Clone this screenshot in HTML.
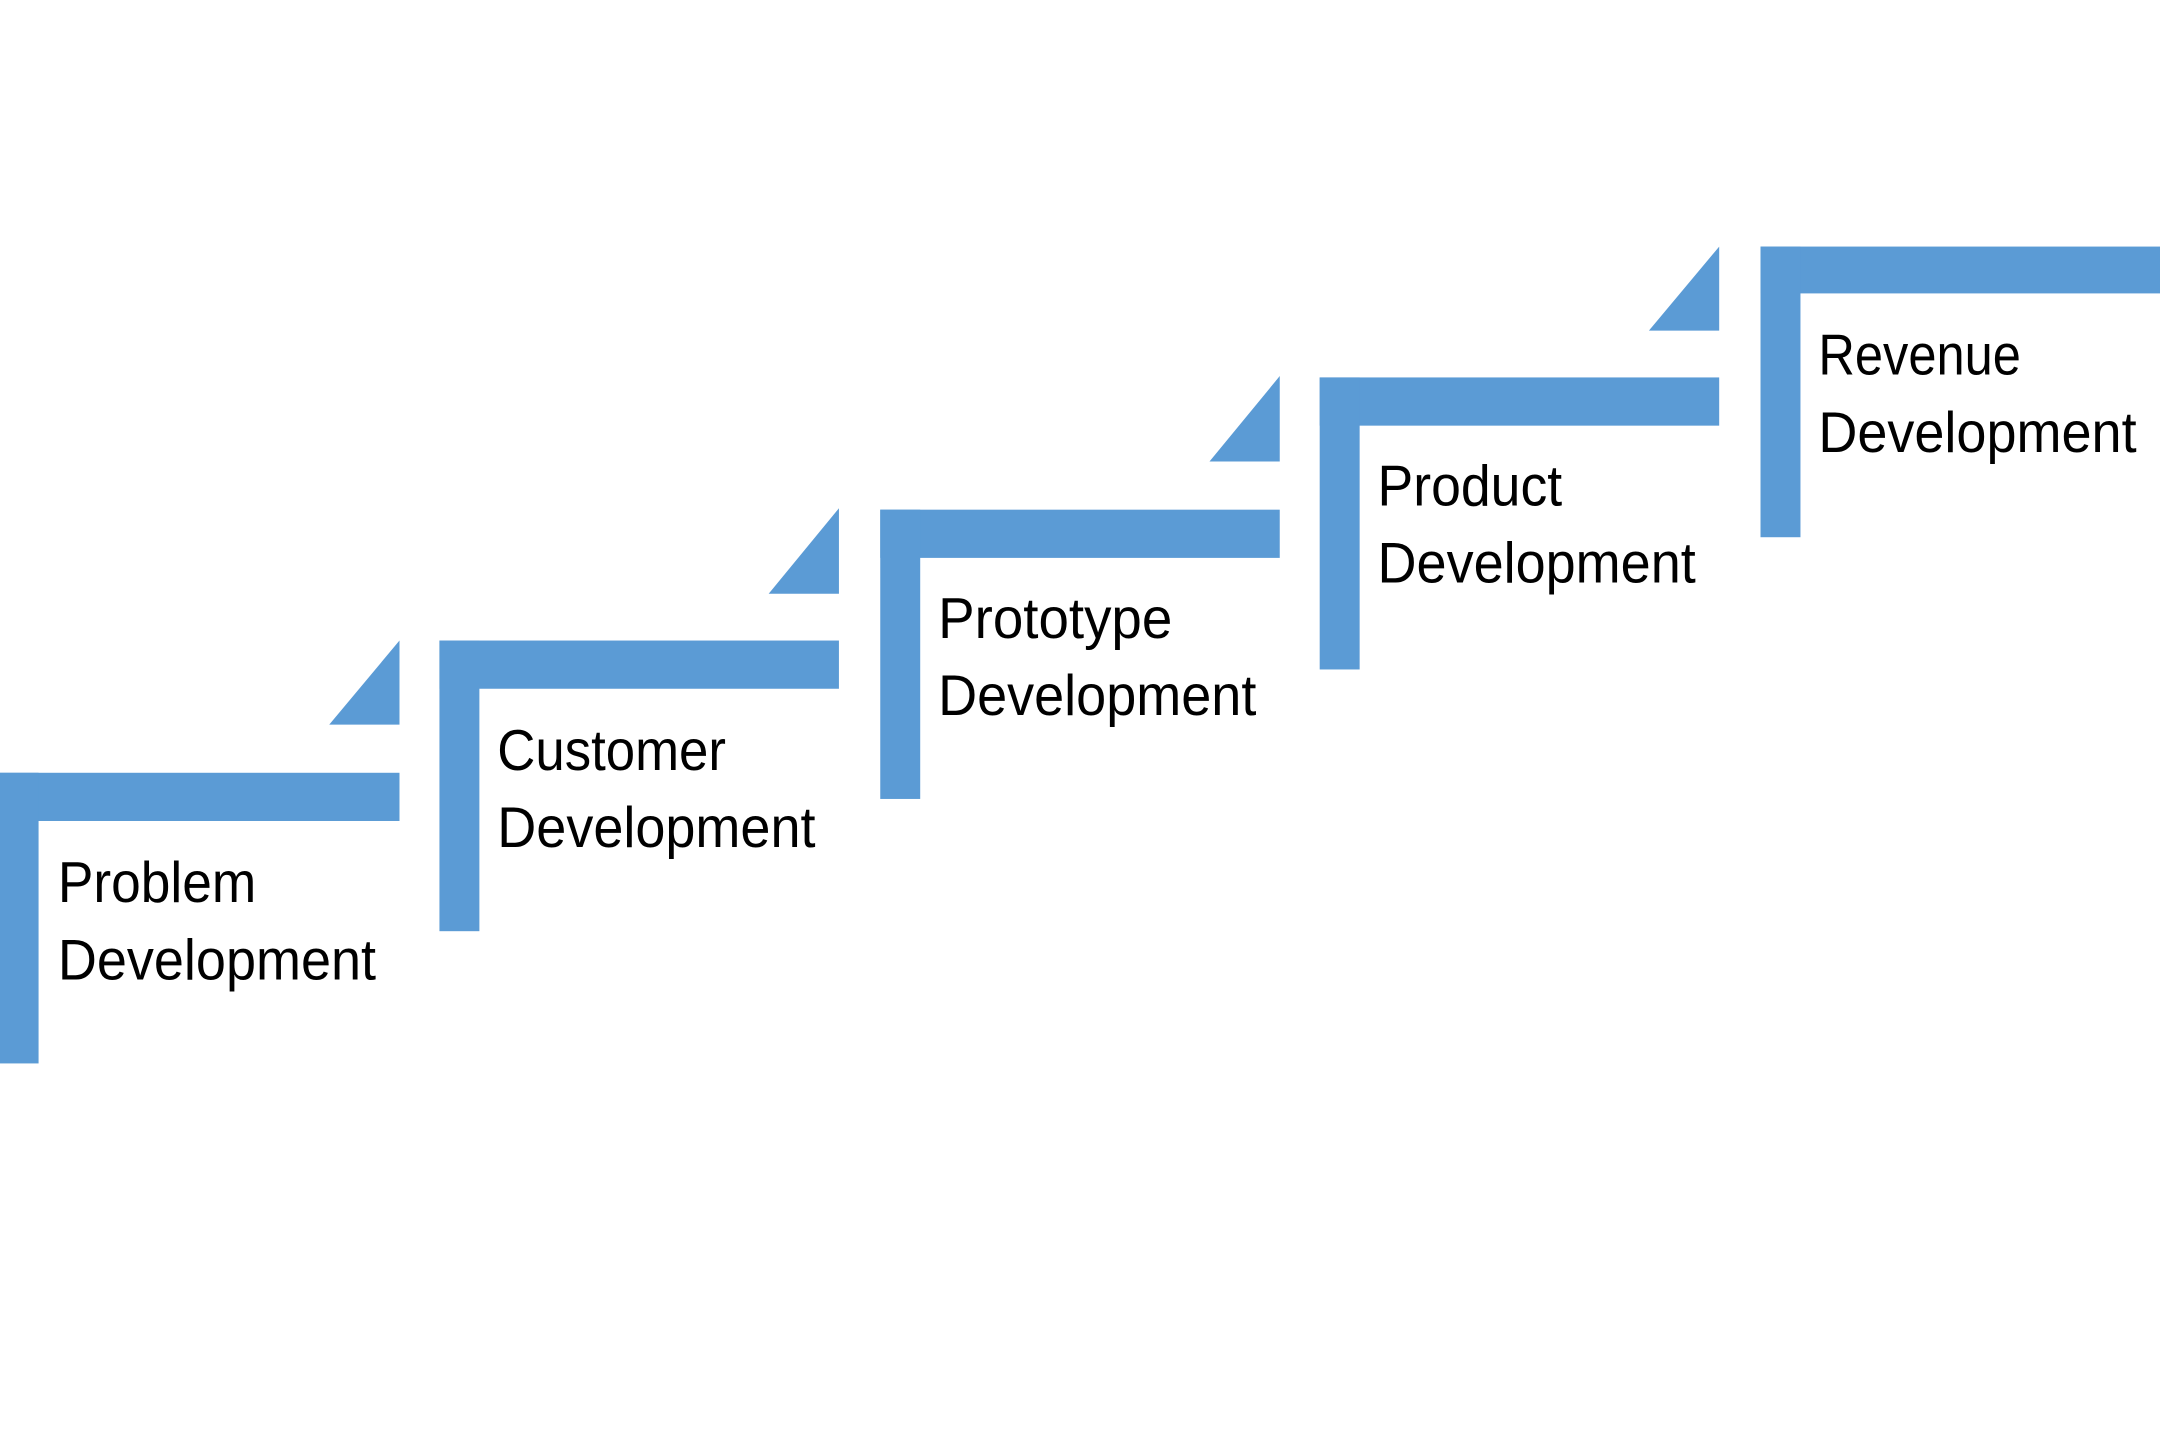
<!DOCTYPE html>
<html><head><meta charset="utf-8"><style>
html,body{margin:0;padding:0;background:#fff;}
svg{display:block;}
text{font-family:"Liberation Sans",sans-serif;font-size:42px;fill:#000;}
</style></head><body>
<svg width="2160" height="1445" viewBox="0 0 1568 1049" preserveAspectRatio="none">
<g fill="#5B9BD5">
<rect x="0" y="561" width="290" height="35"/><rect x="0" y="561" width="28" height="211"/>
<polygon points="290,465 290,526 239,526"/>
<rect x="319" y="465" width="290" height="35"/><rect x="319" y="465" width="29" height="211"/>
<polygon points="609,369 609,431 558,431"/>
<rect x="639" y="370" width="290" height="35"/><rect x="639" y="370" width="29" height="210"/>
<polygon points="929,273 929,335 878,335"/>
<rect x="958" y="274" width="290" height="35"/><rect x="958" y="274" width="29" height="212"/>
<polygon points="1248,179 1248,240 1197,240"/>
<rect x="1278" y="179" width="290" height="34"/><rect x="1278" y="179" width="29" height="211"/>
</g>
<text x="42" y="655" textLength="144" lengthAdjust="spacingAndGlyphs">Problem</text>
<text x="42" y="711" textLength="231" lengthAdjust="spacingAndGlyphs">Development</text>
<text x="361" y="559" textLength="166" lengthAdjust="spacingAndGlyphs">Customer</text>
<text x="361" y="615" textLength="231" lengthAdjust="spacingAndGlyphs">Development</text>
<text x="681" y="463" textLength="170" lengthAdjust="spacingAndGlyphs">Prototype</text>
<text x="681" y="519" textLength="231" lengthAdjust="spacingAndGlyphs">Development</text>
<text x="1000" y="367" textLength="134" lengthAdjust="spacingAndGlyphs">Product</text>
<text x="1000" y="423" textLength="231" lengthAdjust="spacingAndGlyphs">Development</text>
<text x="1320" y="272" textLength="147" lengthAdjust="spacingAndGlyphs">Revenue</text>
<text x="1320" y="328" textLength="231" lengthAdjust="spacingAndGlyphs">Development</text>
</svg>
</body></html>
